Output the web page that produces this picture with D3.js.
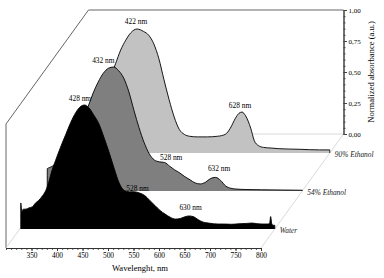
<!DOCTYPE html>
<html>
<head>
<meta charset="utf-8">
<script src="https://cdn.jsdelivr.net/npm/d3@7"></script>
<style>
  body { margin: 0; background: #fff; }
  svg { display: block; font-family: "Liberation Serif", "Times New Roman", serif; }
</style>
</head>
<body>
<svg id="chart" width="384" height="278"></svg>
<script>
// spectra (normalized absorbance)
const seriesNames = ["Water", "54% Ethanol", "90% Ethanol"];

const waterWl = [302, 304, 307, 312, 318, 325, 331, 337, 345, 351, 357, 363, 370, 380, 390, 400, 410, 420, 427, 435,
    445, 455, 465, 475, 485, 495, 505, 515, 525, 535, 545, 555, 565, 575, 585, 595, 605, 615, 625, 632,
    640, 650, 660, 670, 680, 690, 700, 715, 730, 745, 755, 765, 775, 785, 790, 792, 794, 797, 800];
const waterAbs = [0.21, 0.14, 0.16, 0.16, 0.17, 0.18, 0.21, 0.23, 0.27, 0.31, 0.38, 0.47, 0.55, 0.66, 0.76, 0.86, 0.94, 0.99, 1.00, 0.98,
    0.92, 0.85, 0.74, 0.62, 0.49, 0.37, 0.31, 0.30, 0.30, 0.29, 0.27, 0.23, 0.19, 0.15, 0.12, 0.095, 0.08, 0.085, 0.10, 0.105,
    0.10, 0.075, 0.055, 0.048, 0.042, 0.04, 0.04, 0.038, 0.042, 0.045, 0.048, 0.043, 0.04, 0.04, 0.045, 0.10, 0.045, 0.03, 0.03];

const eth54Wl = [300, 305, 310, 320, 330, 340, 350, 360, 370, 380, 390, 400, 410, 420, 430, 440, 450, 460, 470, 480,
    490, 500, 510, 520, 530, 540, 550, 560, 570, 580, 590, 600, 610, 620, 630, 640, 650, 660, 670, 690, 720, 760, 800];
const eth54Abs = [0.18, 0.19, 0.20, 0.24, 0.29, 0.35, 0.42, 0.50, 0.59, 0.68, 0.79, 0.88, 0.95, 0.99, 1.00, 0.97, 0.91, 0.80, 0.65, 0.51,
    0.39, 0.30, 0.25, 0.235, 0.23, 0.20, 0.17, 0.145, 0.115, 0.09, 0.065, 0.057, 0.07, 0.10, 0.11, 0.085, 0.04, 0.022, 0.016, 0.012, 0.01, 0.008, 0.006];

const eth90Wl = [300, 310, 320, 330, 340, 350, 360, 370, 380, 390, 400, 410, 422, 435, 445, 455, 465, 475, 485, 495,
    505, 515, 525, 540, 560, 580, 595, 605, 615, 622, 628, 635, 645, 652, 660, 670, 685, 700, 740, 780, 800];
const eth90Abs = [0.12, 0.13, 0.16, 0.20, 0.27, 0.36, 0.48, 0.61, 0.72, 0.83, 0.91, 0.97, 1.00, 0.98, 0.95, 0.88, 0.76, 0.59, 0.43, 0.29,
    0.19, 0.15, 0.135, 0.13, 0.13, 0.135, 0.15, 0.20, 0.28, 0.32, 0.33, 0.30, 0.20, 0.10, 0.06, 0.045, 0.04, 0.035, 0.03, 0.025, 0.025];

// peak labels: series index, wavelength, level of text baseline
const peakLabels = [
    { s: 0, wl: 418, level: 1.03, text: "428 nm" },
    { s: 0, wl: 531, level: 0.31, text: "528 nm" },
    { s: 0, wl: 635, level: 0.157, text: "630 nm" },
    { s: 1, wl: 410, level: 1.03, text: "432 nm" },
    { s: 1, wl: 543, level: 0.246, text: "528 nm" },
    { s: 1, wl: 637, level: 0.165, text: "632 nm" },
    { s: 2, wl: 420, level: 1.04, text: "422 nm" },
    { s: 2, wl: 624, level: 0.36, text: "628 nm" }
];

const xTicks = [350, 400, 450, 500, 550, 600, 650, 700, 750, 800];
const yTicks = [0, 0.25, 0.5, 0.75, 1];

const series = [
    { wl: waterWl, abs: waterAbs },
    { wl: eth54Wl, abs: eth54Abs },
    { wl: eth90Wl, abs: eth90Abs }
];

const svg = d3.select("#chart");

const x = d3.scaleLinear().domain([300, 800]).range([6, 261]);
const y = d3.scaleLinear().domain([0, 1]).range([248, 124]);

// depth of each plane in the pseudo-3d box
const step = { dx: 27.5, dy: -38 };
const depths = [0.5, 1.5, 2.5];
const backDepth = 3;
const fills = ["#000000", "#7f7f7f", "#c2c2c2"];

const bx = backDepth * step.dx, by = backDepth * step.dy;

// box outline
svg.append("path")
    .attr("d", `M${x(300)},${y(0)}V${y(1)}L${x(300) + bx},${y(1) + by}H${x(800) + bx}`)
    .attr("fill", "none")
    .attr("stroke", "#555")
    .attr("stroke-width", 0.9);

// floor edges
const floor = svg.append("g")
    .attr("stroke", "#d0d0d0")
    .attr("stroke-width", 0.8)
    .attr("fill", "none");
floor.append("line").attr("x1", x(300)).attr("y1", y(0)).attr("x2", x(300) + bx).attr("y2", y(0) + by);
floor.append("line").attr("x1", x(800)).attr("y1", y(0)).attr("x2", x(800) + bx).attr("y2", y(0) + by);
floor.append("line").attr("x1", x(610) + bx).attr("y1", y(0) + by).attr("x2", x(800) + bx).attr("y2", y(0) + by);

// right axis on the back wall
const yBack = d3.scaleLinear().domain([0, 1]).range([y(0) + by, y(1) + by]);
const rightAxis = svg.append("g")
    .attr("transform", `translate(${x(800) + bx},0)`);
rightAxis.append("g")
    .call(d3.axisRight(yBack).tickValues(d3.range(0, 1.001, 0.05)).tickSize(2).tickFormat("").tickSizeOuter(0));
rightAxis.append("g")
    .call(d3.axisRight(yBack).tickValues(yTicks).tickSize(3.5).tickPadding(1.5).tickSizeOuter(0)
        .tickFormat(d => d3.format(".2f")(d).replace(".", ",")))
    .style("font-size", "7px")
    .style("font-family", "Liberation Serif");
rightAxis.selectAll("path, line").attr("stroke", "#444");

svg.append("text")
    .attr("transform", `translate(${x(800) + bx + 27},${yBack(0.5)}) rotate(-90)`)
    .attr("text-anchor", "middle")
    .attr("dy", "0.35em")
    .style("font-size", "8.6px")
    .text("Normalized absorbance (a.u.)");

// planes, back to front
[2, 1, 0].forEach(i => {
    const dx = depths[i] * step.dx, dy = depths[i] * step.dy;
    const pts = series[i].wl.map((w, j) => [w, series[i].abs[j]]);
    const g = svg.append("g").attr("transform", `translate(${dx},${dy})`);

    const area = d3.area()
        .x(d => x(d[0]))
        .y0(y(0))
        .y1(d => y(d[1]))
        .curve(d3.curveMonotoneX);

    g.append("path")
        .datum(pts)
        .attr("d", area)
        .attr("fill", fills[i]);

    const outline = d3.line()
        .x(d => x(d[0]))
        .y(d => y(d[1]))
        .curve(d3.curveMonotoneX);

    g.append("path")
        .datum([[pts[0][0], 0], ...pts, [pts[pts.length - 1][0], 0]])
        .attr("d", outline)
        .attr("fill", "none")
        .attr("stroke", "#000")
        .attr("stroke-width", 0.9);

    g.selectAll(".peak")
        .data(peakLabels.filter(d => d.s === i))
        .enter()
        .append("text")
        .attr("class", "peak")
        .attr("x", d => x(d.wl))
        .attr("y", d => y(d.level))
        .attr("text-anchor", "middle")
        .style("font-size", "7.4px")
        .text(d => d.text);

    g.append("text")
        .attr("x", x(800) + 5)
        .attr("y", y(0) + 4)
        .style("font-size", "7.4px")
        .style("font-style", "italic")
        .attr("fill", "#222")
        .text(seriesNames[i]);
});

// front wavelength axis
const bottom = svg.append("g").attr("transform", `translate(0,${y(0)})`);
bottom.append("g")
    .call(d3.axisBottom(x).tickValues(d3.range(300, 801, 10)).tickSize(1.8).tickFormat("").tickSizeOuter(0));
bottom.append("g")
    .call(d3.axisBottom(x).tickValues(xTicks).tickSize(3).tickPadding(1.5).tickSizeOuter(0))
    .style("font-size", "7.4px")
    .style("font-family", "Liberation Serif");
bottom.selectAll("path, line").attr("stroke", "#333");

svg.append("text")
    .attr("x", 140)
    .attr("y", 271)
    .attr("text-anchor", "middle")
    .style("font-size", "8.6px")
    .text("Wavelenght, nm");
</script>
</body>
</html>
